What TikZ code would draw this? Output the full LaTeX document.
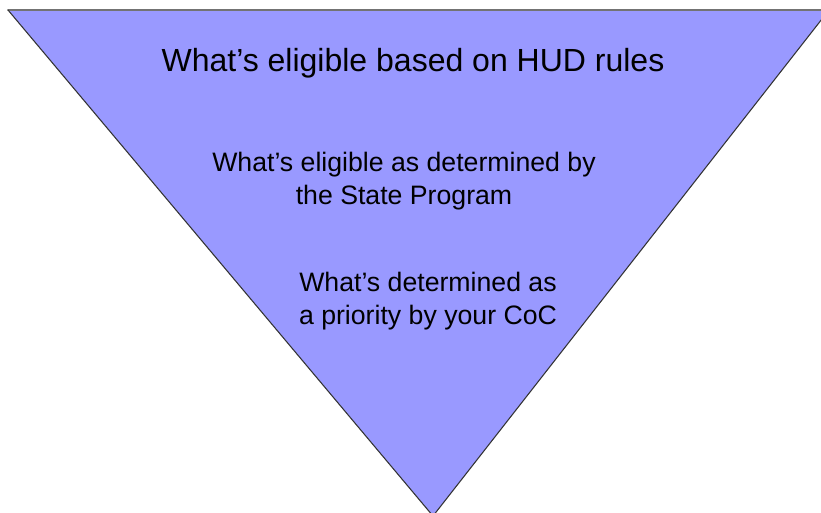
\documentclass[tikz,border=0pt]{standalone}
\usepackage{fontspec}
\setmainfont{Liberation Sans}
\begin{document}
\begin{tikzpicture}[x=0.75pt,y=-0.75pt,line join=round,line cap=round,
	level/.style={align=center,text=black,inner sep=0pt},
	big/.style={font=\fontsize{24}{29}\selectfont},
	small/.style={font=\fontsize{20}{24.75}\selectfont}]
		\useasboundingbox (0,0) rectangle (821,512);
		\clip (0,0) rectangle (821,512);
		\definecolor{funnel}{HTML}{9999FF}
		\coordinate (L) at (8,10);
		\coordinate (R) at (829,10);
		\coordinate (A) at (433,516);
		\fill[funnel] (L)--(R)--(A)--cycle;
		\draw[black!55,line width=1.2pt] (L)--(R);
		\draw[black!80,line width=0.8pt] (R)--(A)--(L);
		\node[level,big,anchor=base] (hud) at (413,71) {What’s eligible based on HUD rules};
		\node[level,small] (state) at (404,181) {What’s eligible as determined by\\the State Program};
		\node[level,small] (coc) at (428,301) {What’s determined as\\a priority by your CoC};
		\end{tikzpicture}
\end{document}
